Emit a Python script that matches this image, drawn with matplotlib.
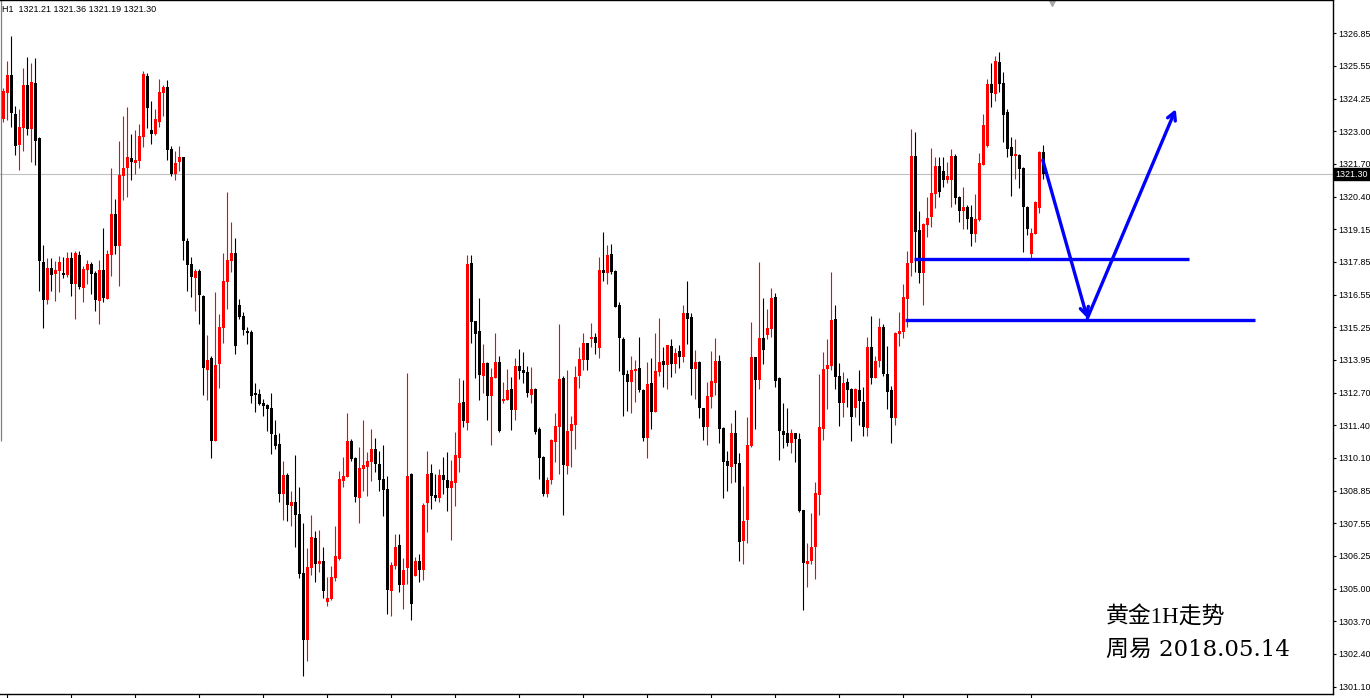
import matplotlib.pyplot as plt
import matplotlib.transforms as mtransforms
import numpy as np

# XAUUSD H1 candles (open, high, low, close)
opens = [
    1323.47, 1324.48, 1325.21, 1323.66, 1322.46, 1323.13, 1324.81, 1323.09, 1324.89, 1322.71,
    1317.83, 1316.34, 1317.60, 1317.36, 1317.49, 1317.41, 1317.32, 1317.99, 1316.97, 1318.11,
    1316.81, 1317.52, 1317.76, 1317.40, 1316.30, 1317.52, 1316.38, 1318.11, 1319.73, 1318.47,
    1321.22, 1321.54, 1321.93, 1321.74, 1321.82, 1322.76, 1325.17, 1323.04, 1322.88, 1323.35,
    1324.50, 1324.73, 1322.29, 1321.30, 1321.78, 1321.97, 1318.68, 1317.76, 1317.20, 1317.48,
    1316.49, 1313.59, 1314.05, 1310.79, 1313.83, 1315.25, 1317.06, 1317.89, 1318.19, 1316.14,
    1315.71, 1315.12, 1315.08, 1312.65, 1312.63, 1312.28, 1312.20, 1312.08, 1311.02, 1310.66,
    1308.70, 1309.44, 1308.23, 1308.38, 1307.90, 1305.59, 1302.95, 1305.79, 1306.96, 1305.94,
    1306.06, 1304.45, 1304.55, 1305.39, 1306.13, 1309.22, 1309.37, 1310.78, 1310.11, 1308.55,
    1309.69, 1309.77, 1309.95, 1310.46, 1309.87, 1309.28, 1308.89, 1304.88, 1305.87, 1306.68,
    1305.12, 1305.79, 1309.49, 1305.47, 1306.06, 1305.71, 1308.32, 1309.52, 1308.66, 1308.55,
    1309.45, 1309.24, 1308.94, 1309.14, 1310.12, 1312.30, 1311.50, 1317.80, 1315.51, 1315.12,
    1313.36, 1313.85, 1312.57, 1313.28, 1313.89, 1312.37, 1312.41, 1312.83, 1312.01, 1313.74,
    1313.58, 1313.50, 1312.61, 1312.83, 1311.25, 1310.15, 1308.69, 1309.24, 1310.75, 1311.34,
    1313.26, 1309.81, 1311.19, 1311.42, 1313.36, 1313.99, 1314.64, 1314.81, 1314.88, 1314.46,
    1317.52, 1317.42, 1318.15, 1317.48, 1316.14, 1314.80, 1313.42, 1313.12, 1313.55, 1313.66,
    1312.79, 1310.91, 1313.07, 1311.94, 1313.51, 1313.93, 1313.79, 1314.52, 1313.83, 1314.33,
    1314.10, 1315.84, 1315.67, 1313.63, 1313.91, 1312.08, 1311.34, 1312.53, 1313.08, 1313.93,
    1311.31, 1310.00, 1309.77, 1311.09, 1309.93, 1306.85, 1307.68, 1310.60, 1314.09, 1313.20,
    1314.84, 1314.97, 1315.21, 1316.47, 1313.28, 1311.19, 1311.11, 1310.71, 1311.09, 1310.87,
    1308.06, 1305.94, 1306.06, 1306.59, 1308.66, 1311.27, 1313.63, 1313.75, 1315.60, 1313.34,
    1312.29, 1313.11, 1312.84, 1312.09, 1312.79, 1312.32, 1311.30, 1314.49, 1313.28, 1313.95,
    1315.27, 1313.42, 1312.79, 1311.70, 1315.01, 1315.08, 1316.39, 1317.81, 1322.03, 1319.11,
    1317.41, 1319.31, 1319.62, 1320.53, 1321.63, 1321.44, 1321.08, 1321.08, 1322.03, 1320.41,
    1319.86, 1320.02, 1319.62, 1318.95, 1319.50, 1321.67, 1322.42, 1324.87, 1324.47, 1325.73,
    1324.90, 1323.76, 1322.38, 1322.03, 1322.07, 1321.55, 1320.02, 1318.16, 1318.95, 1319.98,
    1322.18,
]
highs = [
    1324.68, 1325.76, 1326.76, 1323.98, 1323.85, 1325.47, 1325.92, 1325.67, 1325.88, 1322.78,
    1318.51, 1317.99, 1317.99, 1317.89, 1318.07, 1318.03, 1318.23, 1318.23, 1318.28, 1318.28,
    1317.68, 1317.91, 1317.83, 1317.48, 1317.91, 1319.17, 1318.31, 1321.54, 1320.32, 1322.62,
    1323.59, 1323.94, 1322.88, 1323.04, 1323.27, 1325.36, 1325.30, 1324.19, 1323.87, 1325.05,
    1324.81, 1325.01, 1322.41, 1322.21, 1322.41, 1321.99, 1318.78, 1318.03, 1317.57, 1317.57,
    1316.53, 1314.96, 1314.13, 1316.65, 1315.79, 1318.19, 1320.59, 1319.41, 1318.78, 1316.38,
    1315.87, 1315.27, 1315.16, 1313.07, 1312.83, 1312.44, 1312.22, 1312.67, 1311.61, 1311.10,
    1309.99, 1309.52, 1308.81, 1310.23, 1308.97, 1307.56, 1306.58, 1307.86, 1307.25, 1307.28,
    1306.62, 1305.43, 1305.87, 1307.44, 1309.61, 1310.16, 1311.90, 1310.87, 1310.13, 1310.56,
    1311.62, 1310.36, 1311.27, 1310.91, 1310.40, 1310.62, 1309.41, 1306.02, 1307.13, 1307.13,
    1306.18, 1313.47, 1309.53, 1306.22, 1306.34, 1308.35, 1310.40, 1309.89, 1309.49, 1309.69,
    1310.16, 1310.35, 1310.03, 1311.13, 1313.26, 1313.18, 1318.12, 1318.12, 1315.53, 1316.42,
    1314.60, 1313.89, 1313.66, 1315.04, 1314.13, 1313.11, 1313.62, 1313.30, 1314.05, 1314.41,
    1314.29, 1313.74, 1313.70, 1312.85, 1311.34, 1310.17, 1309.37, 1310.87, 1311.90, 1315.39,
    1313.36, 1313.59, 1311.77, 1313.75, 1314.50, 1315.05, 1314.66, 1315.43, 1315.05, 1318.03,
    1319.02, 1318.51, 1318.55, 1317.52, 1316.26, 1314.89, 1313.58, 1314.13, 1313.97, 1314.88,
    1312.84, 1313.89, 1314.05, 1315.04, 1315.63, 1314.49, 1314.58, 1314.80, 1314.45, 1314.56,
    1316.14, 1317.09, 1315.84, 1314.38, 1313.95, 1312.10, 1313.12, 1314.34, 1314.85, 1314.17,
    1311.33, 1310.39, 1311.49, 1312.01, 1310.32, 1309.02, 1311.74, 1315.48, 1314.11, 1317.85,
    1316.43, 1316.00, 1316.82, 1316.63, 1313.30, 1312.28, 1312.09, 1311.27, 1311.11, 1311.09,
    1308.08, 1306.77, 1307.95, 1309.18, 1313.43, 1314.30, 1314.81, 1317.45, 1316.15, 1313.85,
    1313.51, 1313.28, 1312.86, 1312.86, 1313.58, 1312.92, 1314.88, 1315.71, 1314.13, 1315.63,
    1315.39, 1314.54, 1312.95, 1315.09, 1315.85, 1316.98, 1318.28, 1323.09, 1322.97, 1319.86,
    1319.39, 1320.41, 1322.34, 1321.99, 1321.99, 1321.99, 1321.79, 1322.30, 1322.11, 1320.45,
    1320.80, 1320.10, 1320.10, 1320.53, 1322.15, 1323.68, 1325.06, 1325.69, 1325.97, 1326.13,
    1325.34, 1323.88, 1322.78, 1322.70, 1322.11, 1321.57, 1320.04, 1319.19, 1320.23, 1322.20,
    1322.46,
]
lows = [
    1323.37, 1323.43, 1323.17, 1322.05, 1321.46, 1322.22, 1322.84, 1321.79, 1321.66, 1316.70,
    1315.25, 1316.18, 1316.70, 1316.30, 1316.66, 1317.22, 1317.26, 1316.49, 1315.59, 1316.78,
    1316.26, 1316.97, 1316.57, 1315.90, 1315.39, 1316.26, 1316.38, 1317.28, 1318.15, 1316.89,
    1320.28, 1320.40, 1321.07, 1321.30, 1321.54, 1322.37, 1323.12, 1322.49, 1322.84, 1323.16,
    1323.59, 1321.87, 1321.22, 1321.07, 1321.42, 1317.91, 1316.70, 1316.46, 1315.90, 1315.39,
    1312.59, 1312.39, 1310.12, 1310.79, 1312.87, 1314.64, 1316.00, 1317.45, 1314.22, 1315.58,
    1314.97, 1314.62, 1312.29, 1311.94, 1312.20, 1311.78, 1311.19, 1310.28, 1310.48, 1308.39,
    1307.68, 1307.64, 1307.44, 1306.62, 1305.39, 1301.53, 1302.12, 1305.50, 1305.23, 1305.63,
    1304.60, 1304.29, 1304.52, 1305.27, 1306.09, 1308.98, 1309.37, 1310.00, 1308.39, 1307.56,
    1308.82, 1308.63, 1309.22, 1309.56, 1308.82, 1307.84, 1303.97, 1303.89, 1305.75, 1304.84,
    1304.17, 1305.16, 1303.74, 1305.45, 1305.23, 1305.31, 1307.21, 1308.09, 1308.43, 1308.39,
    1308.70, 1308.03, 1306.88, 1308.23, 1309.57, 1311.34, 1311.23, 1314.66, 1313.28, 1312.41,
    1312.68, 1311.62, 1310.64, 1313.25, 1311.15, 1312.29, 1312.39, 1311.23, 1311.62, 1313.24,
    1313.08, 1312.53, 1312.29, 1311.07, 1309.29, 1308.61, 1308.56, 1309.10, 1309.96, 1309.49,
    1307.88, 1309.49, 1309.77, 1310.48, 1312.88, 1313.58, 1313.59, 1314.50, 1314.22, 1314.06,
    1317.10, 1316.98, 1317.38, 1316.05, 1313.55, 1311.78, 1311.97, 1311.90, 1312.33, 1312.72,
    1310.79, 1310.12, 1311.27, 1311.92, 1313.36, 1312.92, 1312.84, 1313.32, 1313.47, 1313.67,
    1313.91, 1314.62, 1312.61, 1312.45, 1311.70, 1310.83, 1310.63, 1312.09, 1312.61, 1310.71,
    1308.55, 1308.82, 1309.14, 1309.18, 1306.06, 1305.94, 1306.77, 1310.56, 1311.27, 1312.84,
    1313.83, 1314.81, 1314.89, 1312.92, 1310.04, 1310.52, 1310.60, 1310.32, 1309.96, 1307.99,
    1304.13, 1305.04, 1305.94, 1305.35, 1307.88, 1310.83, 1312.05, 1313.59, 1312.84, 1311.38,
    1311.74, 1312.13, 1310.79, 1311.71, 1311.41, 1310.99, 1310.99, 1313.01, 1313.26, 1313.71,
    1313.36, 1312.05, 1310.71, 1311.42, 1314.54, 1314.85, 1315.29, 1317.30, 1317.45, 1317.02,
    1316.15, 1318.83, 1319.23, 1319.95, 1320.41, 1320.80, 1320.94, 1320.02, 1320.12, 1319.43,
    1319.15, 1319.15, 1318.48, 1318.64, 1319.46, 1321.65, 1322.38, 1323.96, 1324.20, 1324.55,
    1322.58, 1321.99, 1320.45, 1321.12, 1320.77, 1318.24, 1318.91, 1318.01, 1318.93, 1319.78,
    1321.12,
]
closes = [
    1324.59, 1325.21, 1323.72, 1322.42, 1323.16, 1324.81, 1323.09, 1324.93, 1322.62, 1317.89,
    1316.34, 1317.60, 1317.34, 1317.52, 1317.83, 1317.32, 1317.99, 1316.97, 1318.19, 1316.85,
    1317.56, 1317.76, 1317.36, 1316.34, 1317.52, 1316.42, 1318.15, 1319.73, 1318.47, 1321.26,
    1321.54, 1321.97, 1321.78, 1321.86, 1322.81, 1325.25, 1323.90, 1322.88, 1323.47, 1324.54,
    1324.73, 1322.26, 1321.30, 1321.74, 1321.97, 1318.68, 1317.72, 1317.24, 1317.48, 1316.53,
    1313.67, 1313.97, 1310.79, 1313.77, 1315.27, 1317.09, 1317.91, 1318.19, 1314.54, 1315.68,
    1315.16, 1315.05, 1312.57, 1312.61, 1312.25, 1312.16, 1312.05, 1311.06, 1310.60, 1308.70,
    1309.44, 1308.27, 1308.39, 1307.88, 1305.55, 1302.95, 1305.81, 1307.00, 1305.94, 1306.06,
    1304.88, 1304.60, 1305.43, 1306.25, 1309.28, 1309.40, 1310.78, 1310.08, 1308.59, 1309.72,
    1309.83, 1309.99, 1310.46, 1309.89, 1309.26, 1308.86, 1304.92, 1305.90, 1306.62, 1305.12,
    1305.69, 1309.41, 1304.37, 1306.06, 1305.71, 1308.27, 1309.49, 1308.63, 1308.55, 1309.45,
    1309.26, 1308.94, 1309.20, 1310.23, 1312.28, 1311.58, 1317.76, 1315.48, 1315.01, 1313.39,
    1313.85, 1312.57, 1313.30, 1313.89, 1311.19, 1312.44, 1312.79, 1312.01, 1313.74, 1313.55,
    1313.47, 1312.68, 1312.83, 1311.15, 1310.12, 1308.69, 1309.24, 1310.83, 1311.37, 1313.22,
    1309.85, 1311.17, 1311.46, 1313.32, 1314.01, 1314.64, 1313.99, 1314.88, 1314.66, 1317.52,
    1317.42, 1318.11, 1317.44, 1316.08, 1314.85, 1313.39, 1313.12, 1313.58, 1313.62, 1312.79,
    1310.91, 1313.03, 1311.94, 1313.54, 1313.89, 1313.79, 1314.56, 1313.83, 1314.25, 1314.10,
    1315.84, 1315.60, 1313.63, 1313.91, 1312.09, 1311.34, 1312.57, 1313.16, 1313.93, 1311.27,
    1309.96, 1309.81, 1311.09, 1309.89, 1306.81, 1307.63, 1310.62, 1314.10, 1313.20, 1314.85,
    1314.38, 1315.23, 1316.43, 1313.16, 1311.19, 1311.03, 1310.71, 1311.09, 1310.87, 1308.03,
    1305.98, 1306.05, 1306.61, 1308.74, 1311.34, 1313.63, 1313.79, 1315.56, 1313.32, 1312.29,
    1313.08, 1312.80, 1311.74, 1312.82, 1312.37, 1311.34, 1314.49, 1313.28, 1313.95, 1315.27,
    1313.43, 1312.72, 1311.70, 1315.05, 1315.12, 1316.47, 1317.81, 1322.03, 1319.03, 1317.41,
    1319.35, 1319.58, 1320.57, 1321.63, 1320.61, 1321.08, 1321.24, 1322.03, 1320.37, 1319.86,
    1320.02, 1319.54, 1318.95, 1319.54, 1321.75, 1323.25, 1324.87, 1324.51, 1325.77, 1324.87,
    1323.64, 1322.30, 1322.03, 1322.07, 1321.51, 1320.02, 1319.15, 1318.99, 1320.21, 1322.18,
    1321.30,
]

price_labels = ['1326.85', '1325.55', '1324.25', '1323.00', '1321.70', '1320.40', '1319.15',
                '1317.85', '1316.55', '1315.25', '1313.95', '1312.70', '1311.40', '1310.10',
                '1308.85', '1307.55', '1306.25', '1305.00', '1303.70', '1302.40', '1301.10']
price_step = 1.2875
last_price = 1321.30
header = 'H1  1321.21 1321.36 1321.19 1321.30'

# drawn analysis: support lines and the expected path
level_prices = [1317.94, 1315.55]
level_start = [227.7, 225.4]
level_end = [296.4, 312.9]
path_x = [259.85, 271.0, 293.1]
path_y = [1321.85, 1315.62, 1323.86]

title_lines = ['黄金1H走势', '周易 2018.05.14']

n = len(opens)
idx = np.arange(n)
o = np.array(opens); h = np.array(highs); l = np.array(lows); c = np.array(closes)
cols = np.where(c >= o, '#ff0000', '#000000')

fig = plt.figure(figsize=(13.7, 6.98), dpi=100)
ax = fig.add_axes([0, 4 / 698, 1333 / 1370, 694 / 698])
ax.set_xlim(-0.825, 332.4)
ax.set_ylim(1300.808, 1328.163)

ax.axhline(last_price, color='#c0c0c0', lw=0.8, zorder=1)
ax.vlines(-0.575, 1310.78, 1328.163, color='#808080', lw=0.9)

ax.vlines(idx, l, h, colors=cols, lw=0.8, zorder=2)
body_bottom = np.minimum(o, c)
body_height = np.maximum(np.abs(c - o), 0.045)
ax.bar(idx, body_height, bottom=body_bottom, width=0.74, color=cols, linewidth=0, zorder=3)

for lvl, x0, x1 in zip(level_prices, level_start, level_end):
    ax.hlines(lvl, x0, x1, color='#0000ff', lw=2.4, zorder=4)
for k in range(2):
    ax.annotate('', xy=(path_x[k + 1], path_y[k + 1]), xytext=(path_x[k], path_y[k]),
                arrowprops=dict(arrowstyle='->,head_length=0.55,head_width=0.3',
                                color='#0000ff', lw=2.4, shrinkA=0, shrinkB=0), zorder=5)

# axes styling like the terminal window
yt = 1326.85 - price_step * np.arange(len(price_labels))
ax.yaxis.tick_right()
ax.set_yticks(yt, price_labels)
ax.set_xticks(np.arange(1, n, 16), [])
ax.tick_params(axis='y', direction='out', length=2.5, width=0.8, pad=1.5, labelsize=6.4)
ax.tick_params(axis='x', direction='out', length=4, width=0.8)
for lab in ax.get_yticklabels():
    lab.set_family('Liberation Sans')
ax.spines['left'].set_visible(False)
for s in ['top', 'right', 'bottom']:
    ax.spines[s].set_color('black')
    ax.spines[s].set_linewidth(1.0)

ax.annotate(f'{last_price:.2f}', xy=(1, last_price), xycoords=('axes fraction', 'data'),
            xytext=(2, 0), textcoords='offset points', va='center', ha='left',
            fontsize=6.4, family='Liberation Sans', color='white',
            bbox=dict(boxstyle='square,pad=0.2', fc='black', ec='black'), annotation_clip=False)

trans = mtransforms.blended_transform_factory(ax.transData, ax.transAxes)
ax.plot([262.2], [0.996], marker='v', ms=4.5, color='#a8a8a8', transform=trans, clip_on=False)

fig.text(2 / 1370, 1 - 9 / 698, header, fontsize=6.5, family='Liberation Sans', va='center')

fig.text(1106 / 1370, 1 - 618 / 698, title_lines[0], fontsize=16.5,
         family=['Liberation Serif', 'Noto Sans CJK SC'], va='center')
fig.text(1106 / 1370, 1 - 650 / 698, title_lines[1], fontsize=16.5,
         family=['DejaVu Serif', 'Noto Sans CJK SC'], va='center')

fig.savefig('out.png', dpi=100)
